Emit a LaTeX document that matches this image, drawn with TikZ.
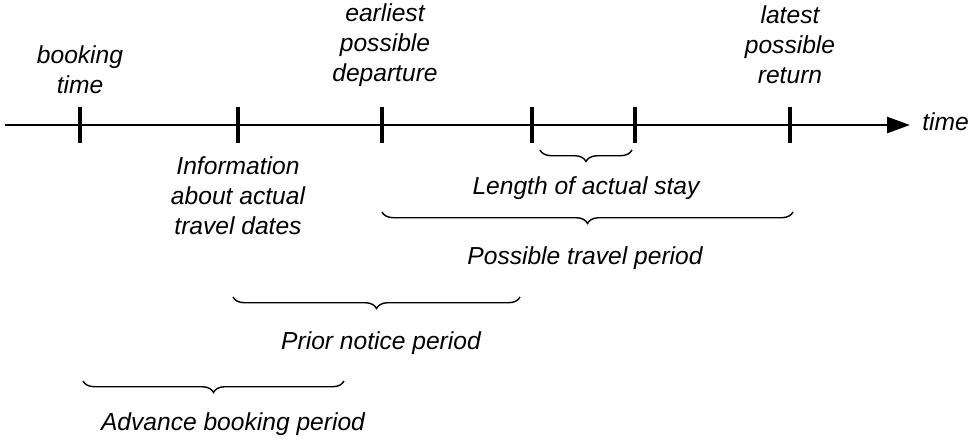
\documentclass[tikz,border=0pt]{standalone}
\usepackage{fontspec}
\setmainfont{Liberation Sans}
\usetikzlibrary{arrows.meta,decorations.pathreplacing}
\tikzset{
  lbl/.style={font=\fontsize{14}{17}\selectfont\itshape, align=center, inner sep=0pt},
  tick/.style={line width=2.6pt},
  brc/.style={decorate, decoration={brace, mirror, amplitude=6.5pt}, line width=0.8pt}
}

\begin{document}
\begin{tikzpicture}[x=0.02cm,y=-0.02cm]
				\useasboundingbox (0,0) rectangle (975,441);
				% axis
				\coordinate (start) at (5,125);
				\coordinate (end) at (910,125);
				\draw[-{Triangle[length=13pt,width=9pt]},line width=1.6pt] (start)--(end);
				\node[lbl,anchor=west] (time) at (922,122) {time};
				% ticks
				\coordinate (book) at (80,125);
				\coordinate (info) at (238,125);
				\coordinate (dep) at (382,125);
				\coordinate (go) at (532,125);
				\coordinate (back) at (635,125);
				\coordinate (ret) at (790,125);
				\foreach \t in {book,info,dep,go,back,ret}
					\draw[tick] ([yshift=-10]\t)--([yshift=10]\t);
				% labels above
				\node[lbl] (booklbl) at (80,70) {booking\\time};
				\node[lbl] (deplbl) at (385,45) {earliest\\possible\\departure};
				\node[lbl] (retlbl) at (790,45) {latest\\possible\\return};
				\node[lbl] (infolbl) at (238,196) {Information\\about actual\\travel dates};
				% braces
				\coordinate (s1) at (540,150); \coordinate (s2) at (632,150);
				\draw[brc] (s1)--(s2);
				\node[lbl] (stay) at (586,188) {Length of actual stay};
				\coordinate (p1) at (382,212); \coordinate (p2) at (793,212);
				\draw[brc] (p1)--(p2);
				\node[lbl] (travel) at (585,258) {Possible travel period};
				\coordinate (n1) at (233,297); \coordinate (n2) at (520,297);
				\draw[brc] (n1)--(n2);
				\node[lbl] (notice) at (381,343) {Prior notice period};
				\coordinate (a1) at (83,381); \coordinate (a2) at (344,381);
				\draw[brc] (a1)--(a2);
				\node[lbl] (advance) at (233,424) {Advance booking period};
			\end{tikzpicture}
\end{document}
